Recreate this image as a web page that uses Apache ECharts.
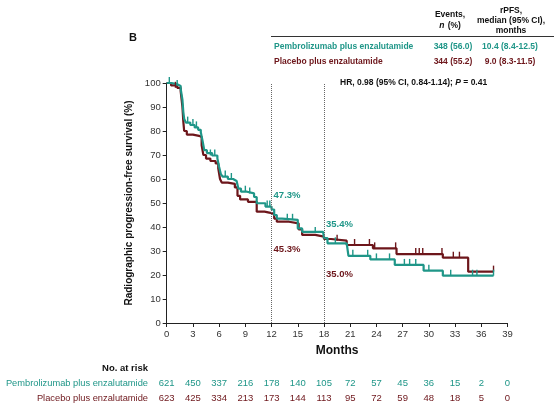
<!DOCTYPE html>
<html>
<head>
<meta charset="utf-8">
<script src="https://cdn.jsdelivr.net/npm/echarts@6.0.0/dist/echarts.min.js"></script>
<style>
  html, body { margin: 0; padding: 0; background: #fff; }
  #main { width: 554px; height: 412px; }
</style>
</head>
<body>
<div id="main"></div>
<script>
// KM step curves (months, % progression-free)
var pembroTime = [0, 0.5, 1.2, 1.6, 1.8, 1.9, 2.0, 2.2, 2.7, 3.2, 3.6, 3.9, 4.1, 4.3, 4.6, 5.2, 5.8, 6.0, 6.2, 6.4, 7.0, 7.6, 8.0, 8.2, 8.5, 9.2, 10.0, 10.3, 11.3, 12.0, 12.3, 12.6, 13.2, 15.0, 15.5, 17.9, 18.0, 18.4, 20.6, 20.8, 23.3, 26.1, 29.4, 31.6, 37.4];
var pembroSurv = [100, 99.5, 98.8, 97.5, 93, 88, 85, 83.5, 82.5, 81.5, 80.5, 79.5, 76, 72, 70.8, 69.8, 68.6, 65, 62, 61, 60, 59.2, 58.6, 56, 54.7, 54, 52.5, 49.9, 48.5, 47.3, 45, 43.5, 43, 39.4, 38, 37.5, 35.4, 33.2, 32.5, 28, 26.5, 24.2, 21.8, 19.7, 19.7];
var placeboTime = [0, 0.5, 1.2, 1.6, 1.8, 1.9, 2.0, 2.3, 3.0, 3.7, 4.0, 4.2, 4.5, 5.0, 5.6, 5.9, 6.1, 6.3, 7.0, 7.8, 8.1, 8.4, 9.3, 10.3, 11.2, 12.0, 12.3, 12.6, 14.0, 15.1, 15.5, 17.0, 18.0, 18.8, 20.6, 23.6, 26.3, 31.6, 34.5, 37.4];
var placeboSurv = [100, 99, 98, 96.5, 90, 84, 80, 78.5, 78, 77.5, 74, 70, 68.5, 67.5, 66.5, 64.5, 60, 58.5, 58, 56.5, 53, 51.5, 50.5, 46.4, 45.8, 45.3, 43.5, 42.2, 41.5, 39, 36.7, 36, 35.0, 34.3, 32.5, 31.1, 28.7, 27.2, 21.4, 21.4];

// censor ticks
var pembroCensT = [0.3, 1.2, 2.4, 3.0, 3.4, 5.0, 5.5, 6.7, 7.4, 9.0, 9.5, 11.5, 11.8, 13.8, 14.4, 17.0, 19.3, 21.3, 23.0, 24.0, 25.5, 27.2, 27.8, 28.5, 30.0, 32.5, 35.0, 35.5, 37.4];
var pembroCensS = [100, 98.8, 83.5, 82.5, 81.5, 69.8, 69.8, 61, 60, 54.7, 54, 48.5, 48.5, 43, 43, 37.5, 33.2, 28, 28, 26.5, 26.5, 24.2, 24.2, 24.2, 21.8, 19.7, 19.7, 19.7, 19.7];
var placeboCensT = [1.0, 19.5, 21.5, 23.2, 23.8, 26.2, 28.5, 28.9, 29.3, 31.5, 32.8, 33.5, 37.4];
var placeboCensS = [98, 34.3, 32.5, 32.5, 31.1, 31.1, 28.7, 28.7, 28.7, 28.7, 27.2, 27.2, 21.4];

// landmark rates
var landmarkMonths = [12, 18];
var pembroLandmark = [47.3, 35.4];
var placeboLandmark = [45.3, 35.0];

// number at risk
var riskMonths = [0, 3, 6, 9, 12, 15, 18, 21, 24, 27, 30, 33, 36, 39];
var pembroRisk = [621, 450, 337, 216, 178, 140, 105, 72, 57, 45, 36, 15, 2, 0];
var placeboRisk = [623, 425, 334, 213, 173, 144, 113, 95, 72, 59, 48, 18, 5, 0];

var groupNames = ['Pembrolizumab plus enzalutamide', 'Placebo plus enzalutamide'];
var events = ['348 (56.0)', '344 (55.2)'];
var medians = ['10.4 (8.4-12.5)', '9.0 (8.3-11.5)'];

var TEAL = '#1f9688';
var RED = '#6d161b';
var FONT = '"Liberation Sans", Arial, sans-serif';

function zip(a, b) { return a.map(function (v, i) { return [v, b[i]]; }); }

var chart = echarts.init(document.getElementById('main'));

chart.setOption({
  animation: false,
  textStyle: { fontFamily: FONT },
  grid: { left: 166.7, right: 46.5, top: 83, bottom: 89 },
  xAxis: {
    type: 'value', min: 0, max: 39, interval: 3,
    name: 'Months', nameLocation: 'middle', nameGap: 22,
    nameTextStyle: { fontWeight: 'bold', fontSize: 12, color: '#111' },
    axisLine: { lineStyle: { color: '#222', width: 1 } },
    axisTick: { length: 4, lineStyle: { color: '#222' } },
    axisLabel: { fontSize: 9.5, color: '#333', margin: 6 },
    splitLine: { show: false }
  },
  yAxis: {
    type: 'value', min: 0, max: 100, interval: 10,
    name: 'Radiographic progression-free survival (%)', nameLocation: 'middle', nameGap: 31,
    nameTextStyle: { fontWeight: 'bold', fontSize: 10, color: '#111' },
    axisLine: { show: true, lineStyle: { color: '#222', width: 1 } },
    axisTick: { show: true, length: 4, lineStyle: { color: '#222' } },
    axisLabel: { fontSize: 9.5, color: '#333', margin: 6 },
    splitLine: { show: false }
  },
  series: [
    {
      type: 'line', step: 'end', data: zip(placeboTime, placeboSurv),
      symbol: 'none', lineStyle: { color: RED, width: 2.2 }, z: 2
    },
    {
      type: 'line', step: 'end', data: zip(pembroTime, pembroSurv),
      symbol: 'none', lineStyle: { color: TEAL, width: 2.2 }, z: 3,
      markLine: {
        silent: true, symbol: 'none', label: { show: false },
        lineStyle: { color: '#666', type: 'dotted', width: 1 },
        data: landmarkMonths.map(function (m) { return { xAxis: m }; })
      }
    },
    {
      type: 'scatter', data: zip(placeboCensT, placeboCensS),
      symbol: 'rect', symbolSize: [1.4, 6], symbolOffset: [0, -3],
      itemStyle: { color: RED, opacity: 1 }, z: 4
    },
    {
      type: 'scatter', data: zip(pembroCensT, pembroCensS),
      symbol: 'rect', symbolSize: [1.4, 6], symbolOffset: [0, -3],
      itemStyle: { color: TEAL, opacity: 1 }, z: 5
    }
  ]
});

// annotations and tables placed through the chart's own scales
var g = [];
function txt(x, y, s, opt) {
  opt = opt || {};
  g.push({
    type: 'text', x: x, y: y, silent: true,
    style: {
      text: s, fill: opt.color || '#111', font: (opt.weight || 'normal') + ' ' + (opt.size || 8.5) + 'px ' + FONT,
      textAlign: opt.align || 'left', textVerticalAlign: 'middle'
    }
  });
}

// panel letter
txt(129, 38, 'B', { weight: 'bold', size: 11 });

// header table
txt(450, 15, 'Events,', { weight: 'bold', align: 'center' });
g.push({
  type: 'text', x: 450, y: 26, silent: true,
  style: {
    text: '{i|n} {b|(%)}', textAlign: 'center', textVerticalAlign: 'middle',
    rich: {
      i: { fontStyle: 'italic', fontWeight: 'bold', fontSize: 8.5, fontFamily: FONT, fill: '#111' },
      b: { fontWeight: 'bold', fontSize: 8.5, fontFamily: FONT, fill: '#111' }
    }
  }
});
txt(511, 11, 'rPFS,', { weight: 'bold', align: 'center' });
txt(511, 21, 'median (95% CI),', { weight: 'bold', align: 'center' });
txt(511, 31, 'months', { weight: 'bold', align: 'center' });
g.push({ type: 'line', silent: true, shape: { x1: 271, y1: 36.5, x2: 554, y2: 36.5 }, style: { stroke: '#333', lineWidth: 1 } });
[TEAL, RED].forEach(function (c, i) {
  var y = 47 + i * 15;
  txt(274, y, groupNames[i], { weight: 'bold', color: c });
  txt(453, y, events[i], { weight: 'bold', color: c, align: 'center' });
  txt(510, y, medians[i], { weight: 'bold', color: c, align: 'center' });
});
g.push({
  type: 'text', x: 340, y: 83, silent: true,
  style: {
    text: '{b|HR, 0.98 (95% CI, 0.84-1.14); }{i|P}{b| = 0.41}', textVerticalAlign: 'middle',
    rich: {
      b: { fontWeight: 'bold', fontSize: 8.5, fontFamily: FONT, fill: '#111' },
      i: { fontWeight: 'bold', fontStyle: 'italic', fontSize: 8.5, fontFamily: FONT, fill: '#111' }
    }
  }
});

// landmark labels
landmarkMonths.forEach(function (m, i) {
  var p1 = chart.convertToPixel({ gridIndex: 0 }, [m, pembroLandmark[i]]);
  var p2 = chart.convertToPixel({ gridIndex: 0 }, [m, placeboLandmark[i]]);
  txt(p1[0] + 2, p1[1] - 14, pembroLandmark[i].toFixed(1) + '%', { weight: 'bold', color: TEAL, size: 9.5 });
  txt(p2[0] + 2, p2[1] + 35, placeboLandmark[i].toFixed(1) + '%', { weight: 'bold', color: RED, size: 9.5 });
});

// number at risk table
txt(148, 368, 'No. at risk', { weight: 'bold', align: 'right', size: 9.5 });
txt(148, 383, groupNames[0], { color: TEAL, align: 'right', size: 9.3 });
txt(148, 398, groupNames[1], { color: RED, align: 'right', size: 9.3 });
riskMonths.forEach(function (m, i) {
  var x = chart.convertToPixel({ gridIndex: 0 }, [m, 0])[0];
  txt(x, 383, String(pembroRisk[i]), { color: TEAL, align: 'center', size: 9.5 });
  txt(x, 398, String(placeboRisk[i]), { color: RED, align: 'center', size: 9.5 });
});

chart.setOption({ graphic: g });
</script>
</body>
</html>
